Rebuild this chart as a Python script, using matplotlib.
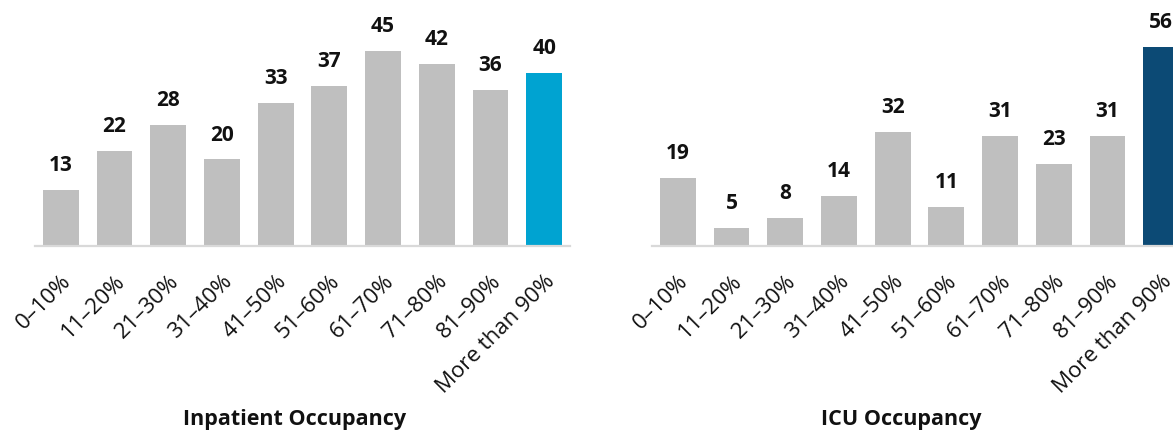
import matplotlib
matplotlib.use("Agg")
import matplotlib.pyplot as plt

plt.rcParams['font.family'] = ['Open Sans', 'DejaVu Sans']

categorias = ['0–10%', '11–20%', '21–30%', '31–40%', '41–50%', '51–60%',
              '61–70%', '71–80%', '81–90%', 'More than 90%']
internacao = [13, 22, 28, 20, 33, 37, 45, 42, 36, 40]
uti = [19, 5, 8, 14, 32, 11, 31, 23, 31, 56]

cinza = '#BFBFBF'
azul_claro = '#00A3D1'
azul_escuro = '#0C4A75'

W, H = 1173, 434
fig = plt.figure(figsize=(W / 100, H / 100), dpi=100)

def painel(x0, valores, destaque, px_por_unidade, titulo, xt):
    # eixo em pixels: base em y=246 (a partir do topo), ate o topo da figura
    ax = fig.add_axes([x0 / W, 188 / H, 535 / W, 246 / H])
    cores = [cinza] * (len(valores) - 1) + [destaque]
    pos = list(range(len(valores)))
    barras = ax.bar(pos, valores, width=0.67, color=cores)
    ax.set_xlim(-0.48, len(valores) - 0.52)
    ax.set_ylim(0, 246 / px_por_unidade)
    for b, v in zip(barras, valores):
        ax.annotate(str(v), (b.get_x() + b.get_width() / 2, v),
                    xytext=(0, 10), textcoords='offset points',
                    ha='center', va='bottom', fontsize=15, fontweight='bold',
                    color='#111111')
    for s in ['top', 'right', 'left']:
        ax.spines[s].set_visible(False)
    ax.spines['bottom'].set_color('#D9D9D9')
    ax.spines['bottom'].set_linewidth(1.6)
    ax.set_yticks([])
    ax.set_xticks(pos)
    ax.set_xticklabels(categorias, rotation=45, ha='right',
                       rotation_mode='anchor', fontsize=16, color='#111111')
    ax.tick_params(axis='x', length=0, pad=18)
    fig.text(xt / W, 1 - 419 / H, titulo, ha='center', va='center',
             fontsize=15.5, fontweight='bold', color='#111111')
    return ax

painel(35, internacao, azul_claro, 4.33, 'Inpatient Occupancy', 295)
painel(652, uti, azul_escuro, 3.56, 'ICU Occupancy', 901)

fig.savefig('out.png', dpi=100)
